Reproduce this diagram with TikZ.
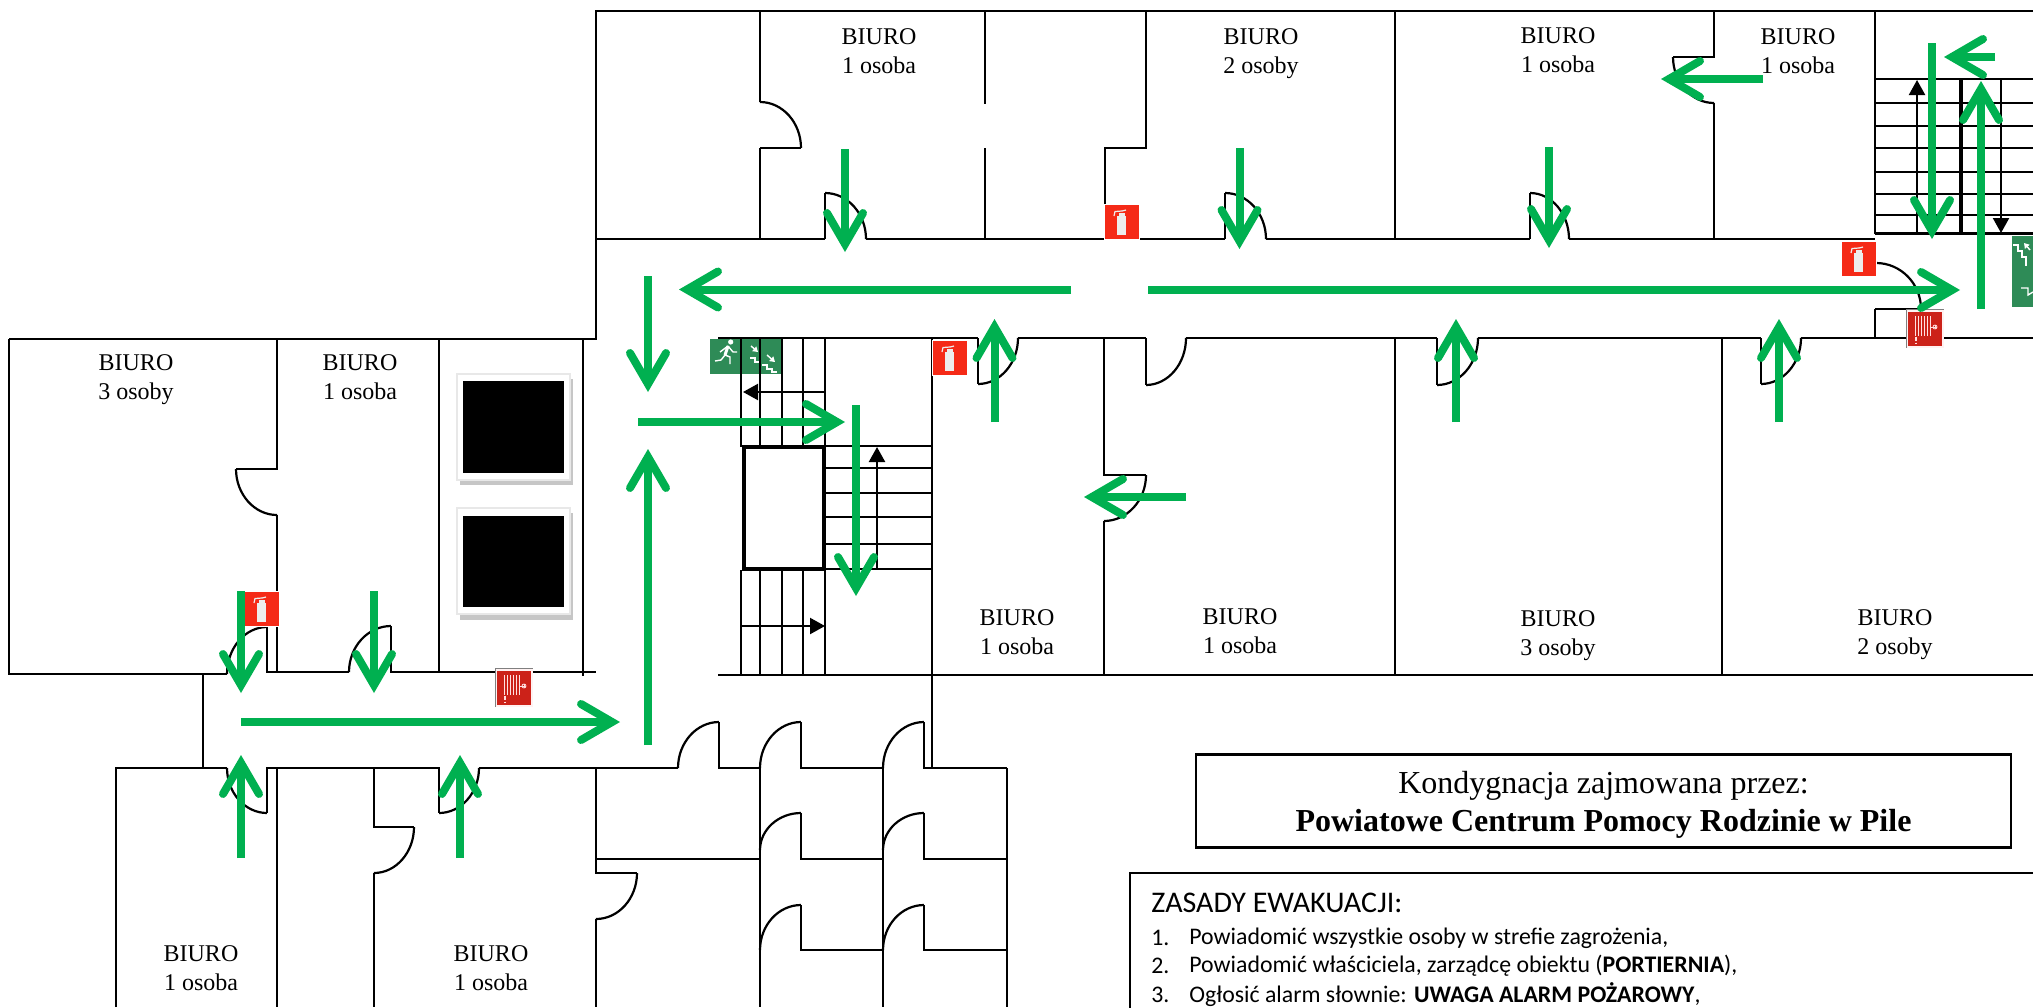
\documentclass[tikz,border=0pt]{standalone}
\usepackage{fontspec}
\setmainfont{Liberation Serif}
\newfontfamily\calibfont{Carlito}
\usetikzlibrary{arrows.meta,calc}
\definecolor{evac}{HTML}{00B050}
\definecolor{signred}{HTML}{F52A17}
\definecolor{hosered}{HTML}{CC2219}
\definecolor{signgreen}{HTML}{2E8B57}
\newcommand\doorarc[3]{\draw[wall] #1 .. controls ($#1!0.55!#2$) and ($#3!0.55!#2$) .. #3;}
\tikzset{
  wall/.style={draw=black,line width=1.1pt},
  thickwall/.style={draw=black,line width=1.8pt},
  blackarrow/.style={draw=black,line width=1.1pt,-{Triangle[length=7.5pt,width=8pt]}},
  evacarrow/.style={draw=evac,line width=4pt,-{Straight Barb[length=15.5pt,width=18pt,line width=4pt,line cap=round,line join=miter]}},
  room/.style={align=center,anchor=north,font=\fontsize{12}{14.7}\selectfont,inner sep=0pt},
  evactext/.style={anchor=west,inner sep=0pt,font=\calibfont\fontsize{11.9}{14}\selectfont},
  wsign/.style={white,line width=0.7pt},
  extsign/.pic={
    \fill[white] (-1,-1) rectangle (35,35);
    \fill[signred] (0,0) rectangle (34,34);
    \fill[white!93!black] (12,11) rectangle (21,30);
    \fill[white!93!black] (13.5,8) rectangle (19.5,11);
    \draw[white!93!black,line width=0.6pt] (17,6) -- (10,6.5) -- (9,11);
    \draw[white!93!black,line width=0.6pt] (17,6) -- (21,5);
  },
  hosesign/.pic={
    \fill[white!95!red] (-2,-3) rectangle (36,36);
    \draw[gray,line width=0.4pt] (-2,36) -- (-2,-3) -- (36,-3);
    \fill[hosered] (0,0) rectangle (34,34);
    \foreach \hx in {7,10,13,16,19,22}{\draw[white!88!red,line width=0.5pt] (\hx,4) -- (\hx,24);}
    \draw[white!88!red,line width=0.8pt] (8,25) -- (8,29) (8,30.5) -- (8,32);
    \draw[white!88!red,line width=0.5pt] (22,15) -- (27,15);
    \draw[white!88!red,line width=0.4pt] (27,15) circle[radius=2];
    \draw[white!88!red,line width=0.3pt] (25,15) -- (29,15) (27,13) -- (27,17);
  }
}
\begin{document}
\begin{tikzpicture}[x=0.5pt,y=-0.5pt]
\path[use as bounding box] (0,0) rectangle (2033,1007);
\clip (0,0) rectangle (2033,1007);
\fill[white] (0,0) rectangle (2033,1007);

% exit sign (left) under the stair lines
\fill[signgreen] (710,339) rectangle (782,374);
\fill[white] (730.7,342) circle[radius=2.6];
\draw[white,line width=1.5pt] (728,346) -- (725,355);
\draw[wsign] (728,346) -- (720,352) (728,346) -- (733,352) -- (737,352);
\draw[wsign] (725,355) -- (730,357) -- (730,364) (725,355) -- (721,360) -- (715,361);
\draw[wsign] (750,358) -- (755,358) -- (755,362) -- (760,362);
\draw[wsign] (762,365) -- (767,365) -- (767,369) -- (772,369) -- (772,372) -- (777,372);
\draw[wsign,-{Triangle[length=2.5pt,width=3pt]}] (751,346) -- (758,352);
\draw[wsign,-{Triangle[length=2.5pt,width=3pt]}] (767,355) -- (775,362);

% exit sign (right)
\fill[signgreen] (2012,236) rectangle (2033,307);
\draw[wsign] (2013,245) -- (2018,245) -- (2018,251) -- (2022,251) -- (2022,257) -- (2026,257) -- (2026,266);
\draw[wsign,-{Triangle[length=2.5pt,width=3pt]}] (2030,250) -- (2024,243);
\draw[wsign] (2021,288) -- (2028,288) -- (2028,295) -- (2033,292);

% upper block
\draw[wall] (9,339) -- (596,339) -- (596,11) -- (2033,11);
\draw[wall] (596,239) -- (825,239) (866,239) -- (1225,239) (1266,239) -- (1530,239) (1569,239) -- (1875,239);
\draw[wall] (760,11) -- (760,102) (760,148) -- (760,239) (760,148) -- (801,148);
\doorarc{(760,102)}{(801,102)}{(801,148)}
\draw[wall] (985,11) -- (985,104) (985,148) -- (985,239);
\draw[wall] (1146,11) -- (1146,148) -- (1105,148) -- (1105,239);
\draw[wall] (1395,11) -- (1395,239);
\draw[wall] (1714,11) -- (1714,57) -- (1673,57) (1714,103) -- (1714,239);
\doorarc{(1673,57)}{(1673,103)}{(1714,103)}
\draw[wall] (825,239) -- (825,193);
\doorarc{(825,193)}{(866,193)}{(866,239)}
\draw[wall] (1225,239) -- (1225,193);
\doorarc{(1225,193)}{(1266,193)}{(1266,239)}
\draw[wall] (1530,239) -- (1530,193);
\doorarc{(1530,193)}{(1569,193)}{(1569,239)}

% right stairs
\draw[wall] (1875,11) -- (1875,234) (1875,309) -- (1875,338);
\foreach \sy in {79,103,126,148,172,194,215,233.5}{\draw[wall] (1875,\sy) -- (2033,\sy);}
\draw[thickwall] (1961,79) -- (1961,233);
\draw[blackarrow] (1917,233) -- (1917,80);
\draw[blackarrow] (2001,79) -- (2001,233);
\draw[wall] (1875,309) -- (1921,309);
\doorarc{(1876,263)}{(1921,263)}{(1921,309)}

% corridor south wall and rooms
\draw[wall] (718,338) -- (978,338) (1018,338) -- (1146,338) (1186,338) -- (1437,338) (1478,338) -- (1761,338) (1801,338) -- (2033,338);
\draw[wall] (978,338) -- (978,384);
\doorarc{(978,384)}{(1018,384)}{(1018,338)}
\draw[wall] (1146,338) -- (1146,385);
\doorarc{(1146,385)}{(1186,385)}{(1186,338)}
\draw[wall] (1437,338) -- (1437,385);
\doorarc{(1437,385)}{(1478,385)}{(1478,338)}
\draw[wall] (1761,338) -- (1761,384);
\doorarc{(1761,384)}{(1801,384)}{(1801,338)}
\draw[wall] (1104,338) -- (1104,475) -- (1146,475) (1104,521) -- (1104,675);
\doorarc{(1146,475)}{(1146,521)}{(1104,521)}
\draw[wall] (1395,338) -- (1395,675);
\draw[wall] (1722,338) -- (1722,675);
\draw[wall] (718,675) -- (2033,675);
\draw[wall] (932,338) -- (932,768);

% central stairs
\foreach \sx in {741,760,782,803,825}{\draw[wall] (\sx,338) -- (\sx,447); \draw[wall] (\sx,570) -- (\sx,675);}
\foreach \sy in {446,468,493,517,544,569}{\draw[wall] (825,\sy) -- (932,\sy);}
\draw[line width=2.3pt] (744,447) rectangle (824,569);
\draw[blackarrow] (825,392) -- (743,392);
\draw[blackarrow] (741,626) -- (825,626);
\draw[blackarrow] (877,569) -- (877,447);

% left block
\draw[wall] (9,339) -- (9,674) -- (227,674);
\draw[wall] (277,339) -- (277,469) -- (236,469) (277,515) -- (277,672);
\doorarc{(236,469)}{(236,515)}{(277,515)}
\draw[wall] (267,627) -- (267,672) -- (349,672) (391,626) -- (391,672) -- (596,672);
\doorarc{(267,627)}{(227,627)}{(227,674)}
\doorarc{(391,626)}{(349,626)}{(349,672)}
\draw[wall] (439,339) -- (439,672);
\draw[wall] (583,339) -- (583,676);

% windows
\fill[gray!45] (460,379) rectangle (573,485);
\fill[gray!18] (456,373) rectangle (571,481);
\fill[white] (458,375) rectangle (569,479);
\fill[black] (463,381) rectangle (564,473);
\fill[gray!45] (460,513) rectangle (573,620);
\fill[gray!18] (456,507) rectangle (571,615);
\fill[white] (458,509) rectangle (569,613);
\fill[black] (463,516) rectangle (564,607);

% lower block
\draw[wall] (203,674) -- (203,768);
\draw[wall] (116,1007) -- (116,768) -- (227,768) (267,813) -- (267,768) -- (439,768) -- (439,813) (479,768) -- (678,768);
\doorarc{(227,768)}{(227,813)}{(267,813)}
\doorarc{(439,813)}{(479,813)}{(479,768)}
\draw[wall] (277,768) -- (277,1007);
\draw[wall] (374,768) -- (374,827) -- (414,827) (374,873) -- (374,1007);
\doorarc{(414,827)}{(414,873)}{(374,873)}
\draw[wall] (596,768) -- (596,873) -- (637,873) (596,919) -- (596,1007) (596,859) -- (760,859);
\doorarc{(637,873)}{(637,919)}{(596,919)}
\draw[wall] (719,722) -- (719,768) -- (760,768);
\doorarc{(678,768)}{(678,722)}{(719,722)}
\draw[wall] (760,768) -- (760,1007) (883,768) -- (883,1007) (1007,768) -- (1007,1007);
\foreach \dy/\dt/\de in {768/722/768,859/813/850,950/905/950}{
  \draw[wall] (801,\dt) -- (801,\dy) -- (883,\dy);
  \draw[wall] (924,\dt) -- (924,\dy) -- (1007,\dy);
  \doorarc{(760,\de)}{(760,\dt)}{(801,\dt)}
  \doorarc{(883,\de)}{(883,\dt)}{(924,\dt)}
}

% signs
\pic at (1105,205) {extsign};
\pic at (1842,242) {extsign};
\pic at (933,341) {extsign};
\pic at (245,592) {extsign};
\pic at (1908,312) {hosesign};
\pic at (497,671) {hosesign};

% evacuation arrows
\draw[evacarrow] (845,149) -- (845,252);
\draw[evacarrow] (1239.5,148) -- (1239.5,249);
\draw[evacarrow] (1549,147) -- (1549,248);
\draw[evacarrow] (1071,289.5) -- (679,289.5);
\draw[evacarrow] (1148,290) -- (1960,290);
\draw[evacarrow] (1763,79) -- (1661,79);
\draw[evacarrow] (1932,43) -- (1932,239);
\draw[evacarrow] (1995,57) -- (1944,57);
\draw[evacarrow] (1981,309) -- (1981,81);
\draw[evacarrow] (994.5,422) -- (994.5,319);
\draw[evacarrow] (1456,422) -- (1456,319);
\draw[evacarrow] (1779,422) -- (1779,319);
\draw[evacarrow] (648,276) -- (648,392);
\draw[evacarrow] (638,422) -- (845,422);
\draw[evacarrow] (856,405) -- (856,596);
\draw[evacarrow] (1186,497) -- (1084,497);
\draw[evacarrow] (648,745) -- (648,449);
\draw[evacarrow] (241,591) -- (241,693);
\draw[evacarrow] (374,591) -- (374,693);
\draw[evacarrow] (241,722) -- (620,722);
\draw[evacarrow] (241,858) -- (241,755);
\draw[evacarrow] (460,858) -- (460,755);

% room labels
\node[room] (r1) at (879,28) {BIURO\\1 osoba};
\node[room] (r2) at (1261,28) {BIURO\\2 osoby};
\node[room] (r3) at (1558,27) {BIURO\\1 osoba};
\node[room] (r4) at (1798,28) {BIURO\\1 osoba};
\node[room] (r5) at (136,354) {BIURO\\3 osoby};
\node[room] (r6) at (360,354) {BIURO\\1 osoba};
\node[room] (r7) at (1017,609) {BIURO\\1 osoba};
\node[room] (r8) at (1240,608) {BIURO\\1 osoba};
\node[room] (r9) at (1558,610) {BIURO\\3 osoby};
\node[room] (r10) at (1895,609) {BIURO\\2 osoby};
\node[room] (r11) at (201,945) {BIURO\\1 osoba};
\node[room] (r12) at (491,945) {BIURO\\1 osoba};

% title box
\node[draw=black,line width=1.1pt,minimum width=407.5pt,minimum height=46.5pt,inner sep=0pt] (title) at (1603.5,801) {};
\node[inner sep=0pt,align=center,font=\fontsize{16}{19}\selectfont] (titletext) at (1603.5,805) {Kondygnacja zajmowana przez:\\\textbf{Powiatowe Centrum Pomocy Rodzinie w Pile}};

% rules box
\draw[wall] (2040,873) -- (1130,873) -- (1130,1015);
\node[evactext,font=\calibfont\fontsize{15}{17}\selectfont] (rh) at (1151,903) {ZASADY EWAKUACJI:};
\node[evactext] (n1) at (1151,938) {1.};
\node[evactext] (t1) at (1189,938) {Powiadomić wszystkie osoby w strefie zagrożenia,};
\node[evactext] (n2) at (1151,966) {2.};
\node[evactext] (t2) at (1189,966) {Powiadomić właściciela, zarządcę obiektu (\textbf{PORTIERNIA}),};
\node[evactext] (n3) at (1151,995) {3.};
\node[evactext] (t3) at (1189,995) {Ogłosić alarm słownie: \textbf{UWAGA ALARM POŻAROWY},};
\end{tikzpicture}
\end{document}
